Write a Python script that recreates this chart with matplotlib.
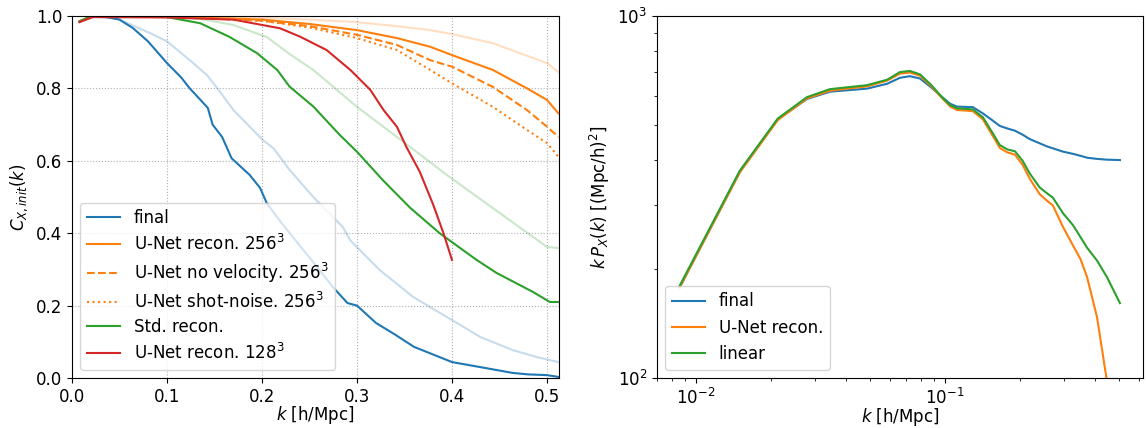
import numpy as np
import matplotlib
matplotlib.use("Agg")
import matplotlib.pyplot as plt
from matplotlib.ticker import NullFormatter

# ---- left panel: cross-correlation with initial field ----
k_final = [0.008, 0.02, 0.03, 0.05, 0.064, 0.08, 0.1, 0.115, 0.124, 0.135, 0.143, 0.148, 0.158,
           0.168, 0.187, 0.198, 0.205, 0.22, 0.24, 0.26, 0.275, 0.29, 0.30, 0.32, 0.34, 0.36,
           0.38, 0.40, 0.43, 0.464, 0.48, 0.50, 0.512]
c_final = [0.985, 0.998, 1.0, 0.99, 0.967, 0.93, 0.87, 0.83, 0.80, 0.769, 0.746, 0.70, 0.666,
           0.607, 0.561, 0.525, 0.483, 0.43, 0.365, 0.30, 0.25, 0.207, 0.20, 0.152, 0.12, 0.086,
           0.065, 0.044, 0.03, 0.014, 0.01, 0.008, 0.003]

k_final_lr = [0.008, 0.02, 0.047, 0.082, 0.1, 0.124, 0.142, 0.156, 0.163, 0.17, 0.201, 0.212,
              0.229, 0.254, 0.285, 0.293, 0.324, 0.359, 0.40, 0.43, 0.464, 0.489, 0.512]
c_final_lr = [0.985, 0.998, 0.994, 0.953, 0.93, 0.878, 0.837, 0.79, 0.765, 0.74, 0.657, 0.635,
              0.575, 0.50, 0.417, 0.38, 0.298, 0.224, 0.16, 0.113, 0.077, 0.058, 0.044]

k_std = [0.008, 0.02, 0.1, 0.135, 0.166, 0.195, 0.216, 0.229, 0.254, 0.282, 0.30, 0.327, 0.356,
         0.387, 0.408, 0.426, 0.447, 0.485, 0.503, 0.512]
c_std = [0.985, 0.999, 0.997, 0.98, 0.942, 0.897, 0.851, 0.805, 0.75, 0.671, 0.625, 0.547, 0.47,
         0.40, 0.36, 0.326, 0.29, 0.238, 0.21, 0.21]

k_std_lr = [0.008, 0.02, 0.1, 0.14, 0.17, 0.205, 0.229, 0.254, 0.30, 0.342, 0.395, 0.45, 0.50, 0.512]
c_std_lr = [0.985, 0.999, 0.998, 0.99, 0.975, 0.942, 0.895, 0.851, 0.749, 0.666, 0.56, 0.456,
            0.362, 0.359]

k_unet128 = [0.008, 0.022, 0.1, 0.17, 0.219, 0.24, 0.268, 0.293, 0.314, 0.328, 0.342, 0.352,
             0.366, 0.38, 0.391, 0.40]
c_unet128 = [0.983, 0.997, 0.996, 0.99, 0.966, 0.943, 0.906, 0.851, 0.796, 0.74, 0.694, 0.638,
             0.57, 0.48, 0.40, 0.326]

k_unet = [0.008, 0.02, 0.1, 0.2, 0.25, 0.30, 0.342, 0.377, 0.40, 0.443, 0.479, 0.50, 0.512]
c_unet = [0.985, 0.999, 0.999, 0.99, 0.978, 0.961, 0.939, 0.915, 0.892, 0.851, 0.80, 0.768, 0.731]
c_novel = [0.985, 0.999, 0.998, 0.987, 0.972, 0.948, 0.92, 0.878, 0.86, 0.804, 0.74, 0.694, 0.666]
c_shot = [0.985, 0.999, 0.998, 0.987, 0.968, 0.939, 0.906, 0.851, 0.814, 0.749, 0.685, 0.649, 0.611]
c_unet_lr = [0.985, 0.999, 1.0, 0.995, 0.99, 0.983, 0.972, 0.961, 0.95, 0.925, 0.89, 0.87, 0.845]

# ---- right panel: power spectra ----
k_pk = [0.0086, 0.015, 0.0213, 0.0279, 0.0345, 0.0486, 0.0586, 0.0659, 0.0723, 0.0793, 0.088,
        0.098, 0.105, 0.1117, 0.1294, 0.142, 0.155, 0.166, 0.178, 0.191, 0.205, 0.219, 0.24,
        0.255, 0.271, 0.298, 0.327, 0.35, 0.372, 0.408, 0.447, 0.504]
pk_final = [178, 372, 518, 590, 618, 630, 650, 675, 682, 672, 635, 595, 572, 562, 560, 538, 515,
            497, 489, 482, 470, 457, 445, 437, 431, 422, 416, 411, 406, 403, 401, 400]
pk_unet = [178, 370, 516, 592, 622, 639, 663, 693, 698, 684, 640, 590, 562, 550, 546, 518, 468,
           432, 420, 414, 388, 355, 322, 310, 300, 261, 232, 213, 190, 147, 98, 60]
pk_linear = [180, 374, 521, 597, 628, 644, 667, 700, 705, 690, 645, 593, 567, 556, 552, 525, 476,
             440, 428, 423, 398, 367, 336, 325, 315, 285, 264, 245, 229, 211, 190, 161]

plt.rcParams['font.size'] = 12
fig = plt.figure(figsize=(11.46, 4.28), dpi=100)
ax1 = fig.add_axes([0.0628, 0.1168, 0.425, 0.8458])
ax2 = fig.add_axes([0.5733, 0.1168, 0.4241, 0.8458])

ax1.plot(k_final, c_final, color='C0', label='final')
ax1.plot(k_final_lr, c_final_lr, color='C0', alpha=0.25)
ax1.plot(k_unet, c_unet, color='C1', label='U-Net recon. $256^3$')
ax1.plot(k_unet, c_unet_lr, color='C1', alpha=0.25)
ax1.plot(k_unet, c_novel, color='C1', ls='--', label='U-Net no velocity. $256^3$')
ax1.plot(k_unet, c_shot, color='C1', ls=':', label='U-Net shot-noise. $256^3$')
ax1.plot(k_std, c_std, color='C2', label='Std. recon.')
ax1.plot(k_std_lr, c_std_lr, color='C2', alpha=0.25)
ax1.plot(k_unet128, c_unet128, color='C3', label='U-Net recon. $128^3$')
ax1.set_xlim(0, 0.5126)
ax1.set_ylim(0, 1)
ax1.grid(True, ls=':')
ax1.set_xlabel('$k$ [h/Mpc]', labelpad=-1)
ax1.set_ylabel('$C_{X,init}(k)$')
ax1.legend(loc='lower left', labelspacing=0.4)

ax2.loglog(k_pk, pk_final, color='C0', label='final')
ax2.loglog(k_pk, pk_unet, color='C1', label='U-Net recon.')
ax2.loglog(k_pk, pk_linear, color='C2', label='linear')
ax2.set_xlim(0.00697, 0.624)
ax2.set_ylim(100, 1000)
ax2.yaxis.set_minor_formatter(NullFormatter())
ax2.set_xlabel('$k$ [h/Mpc]', labelpad=-1)
ax2.set_ylabel('$k\\,P_X(k)$ [(Mpc/h)$^2$]')
ax2.legend(loc='lower left')

fig.savefig('out.png', dpi=100)
